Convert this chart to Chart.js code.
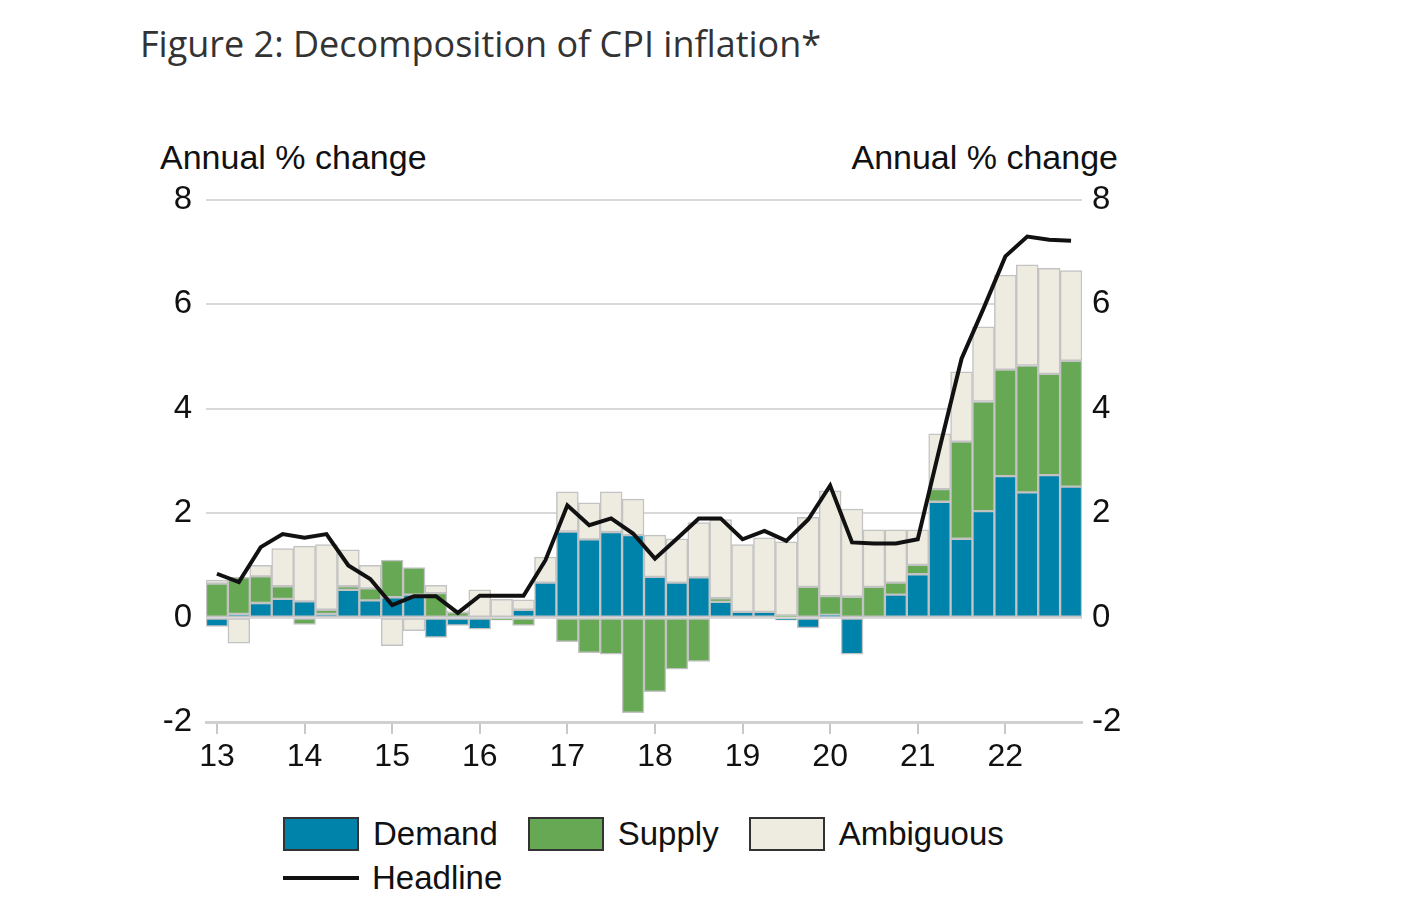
<!DOCTYPE html>
<html>
<head>
<meta charset="utf-8">
<title>Decomposition of CPI inflation</title>
<script src="https://cdn.jsdelivr.net/npm/chart.js@4.4.1/dist/chart.umd.min.js"></script>
<style>
  body { margin: 0; background: #fff; }
  #page { position: relative; width: 1423px; height: 909px; overflow: hidden; }
  #title {
    position: absolute; left: 140px; top: 21px;
    font-family: "Open Sans", sans-serif; font-size: 36px; line-height: 46px;
    color: #333;
  }
  .unit {
    position: absolute; top: 137px;
    font-family: "Liberation Sans", Arial, sans-serif; font-size: 34px; line-height: 40px;
    color: #111;
  }
  #chartBox { position: absolute; left: 0; top: 0; width: 1423px; height: 800px; }
  #legend {
    position: absolute; left: 283px; top: 812px;
    font-family: "Liberation Sans", Arial, sans-serif; font-size: 33px; color: #111;
  }
  .row { display: flex; align-items: center; height: 44px; }
  .item { display: flex; align-items: center; margin-right: 30px; }
  .swatch { width: 72px; height: 30px; border: 2px solid #333; margin-right: 14px; }
  .lineSwatch { width: 76px; height: 4px; background: #111; margin-right: 13px; }
</style>
</head>
<body>
<div id="page">
  <div id="title">Figure 2: Decomposition of CPI inflation*</div>
  <div class="unit" style="left:160px;">Annual % change</div>
  <div class="unit" style="right:305px;">Annual % change</div>
  <div id="chartBox"><canvas id="cpi"></canvas></div>
  <div id="legend"></div>
</div>
<script>
// quarters 2013 Q1 .. 2022 Q4
const years = ['13', '14', '15', '16', '17', '18', '19', '20', '21', '22'];
const quarters = [];
years.forEach(y => { for (let q = 1; q <= 4; q++) quarters.push(y + ' Q' + q); });

// contributions, percentage points
const demand = [
  -0.17, 0.07, 0.28, 0.36, 0.31, 0.07, 0.53, 0.33,
  0.39, 0.44, -0.38, -0.15, -0.22, 0, 0.15, 0.67,
  1.65, 1.5, 1.64, 1.58, 0.78, 0.67, 0.77, 0.3,
  0.11, 0.11, -0.05, -0.2, 0.05, -0.7, 0, 0.44,
  0.83, 2.22, 1.51, 2.04, 2.71, 2.4, 2.73, 2.51
];
const supply = [
  0.65, 0.7, 0.51, 0.24, -0.13, 0.08, 0.07, 0.23,
  0.71, 0.52, 0.47, 0.1, 0, -0.05, -0.15, 0,
  -0.46, -0.67, -0.7, -1.82, -1.42, -0.99, -0.84, 0.07,
  0, 0, 0.04, 0.59, 0.36, 0.4, 0.59, 0.23,
  0.18, 0.24, 1.86, 2.1, 2.04, 2.43, 1.94, 2.41
];
const ambiguous = [
  0.07, -0.49, 0.21, 0.72, 1.06, 1.25, 0.7, 0.44,
  -0.54, -0.25, 0.15, 0.03, 0.53, 0.35, 0.19, 0.49,
  0.76, 0.7, 0.77, 0.69, 0.8, 0.84, 1.05, 1.51,
  1.29, 1.42, 1.41, 1.33, 2.02, 1.68, 1.09, 1.01,
  0.67, 1.06, 1.34, 1.43, 1.81, 1.93, 2.02, 1.73
];
const headline = [
  0.84, 0.68, 1.35, 1.6, 1.53, 1.6, 1.0, 0.74,
  0.24, 0.41, 0.41, 0.09, 0.42, 0.42, 0.42, 1.1,
  2.15, 1.77, 1.9, 1.61, 1.13, 1.51, 1.9, 1.9,
  1.5, 1.66, 1.47, 1.88, 2.53, 1.44, 1.42, 1.42,
  1.5, 3.25, 4.96, 5.92, 6.92, 7.3, 7.24, 7.22
];

const FONT = '"Liberation Sans", Arial, sans-serif';
const barBorder = 'rgba(195,195,195,1)';

function bars(label, values, colour) {
  return {
    type: 'bar', label: label, data: values, backgroundColor: colour,
    borderColor: barBorder, borderWidth: 1.5, borderSkipped: false,
    stack: 'parts', order: 1
  };
}

const data = {
  labels: quarters,
  datasets: [
    bars('Demand', demand, '#0083ab'),
    bars('Supply', supply, '#66a853'),
    bars('Ambiguous', ambiguous, '#eeece1'),
    {
      type: 'line', label: 'Headline', data: headline,
      borderColor: '#111', borderWidth: 4, pointRadius: 0, tension: 0,
      stack: 'headline', order: 0
    }
  ]
};

const yTicks = {
  stepSize: 2, color: '#111', font: { family: FONT, size: 33 }
};

const config = {
  type: 'bar',
  data: data,
  options: {
    responsive: true,
    maintainAspectRatio: false,
    animation: false,
    layout: { padding: { top: 200, left: 0, right: 0, bottom: 0 } },
    datasets: { bar: { categoryPercentage: 1, barPercentage: 1 } },
    plugins: { legend: { display: false }, tooltip: { enabled: false } },
    scales: {
      x: {
        stacked: true,
        offset: true,
        grid: {
          offset: false, drawOnChartArea: false, drawTicks: true, tickLength: 12,
          lineWidth: 2,
          color: ctx => (ctx.index % 4 === 0 ? '#c8c8c8' : 'rgba(0,0,0,0)')
        },
        border: { display: true, color: '#d0d0d0', width: 3 },
        ticks: {
          autoSkip: false, maxRotation: 0, padding: 4, color: '#111',
          font: { family: FONT, size: 32 },
          callback: (v, i) => (i % 4 === 0 ? years[i / 4] : '')
        },
        afterFit: s => { s.height = 78; }
      },
      y: {
        stacked: true, position: 'left', min: -2, max: 8,
        grid: { color: '#d9d9d9', lineWidth: 2, drawTicks: false },
        border: { display: false },
        ticks: Object.assign({ padding: 14 }, yTicks),
        afterFit: s => { s.width = 206; }
      },
      y2: {
        position: 'right', min: -2, max: 8,
        grid: { drawOnChartArea: false, drawTicks: false },
        border: { display: false },
        ticks: Object.assign({ padding: 10 }, yTicks),
        afterFit: s => { s.width = 341; }
      }
    }
  }
};

const chart = new Chart(document.getElementById('cpi'), config);

// legend: three bar series on the first row, the line below
const legend = document.getElementById('legend');
let row = document.createElement('div');
row.className = 'row';
legend.appendChild(row);
chart.data.datasets.forEach(ds => {
  if (ds.type === 'line') {
    row = document.createElement('div');
    row.className = 'row';
    legend.appendChild(row);
  }
  const item = document.createElement('div');
  item.className = 'item';
  const sw = document.createElement('div');
  if (ds.type === 'line') {
    sw.className = 'lineSwatch';
  } else {
    sw.className = 'swatch';
    sw.style.background = ds.backgroundColor;
  }
  const txt = document.createElement('span');
  txt.textContent = ds.label;
  item.appendChild(sw);
  item.appendChild(txt);
  row.appendChild(item);
});
</script>
</body>
</html>
